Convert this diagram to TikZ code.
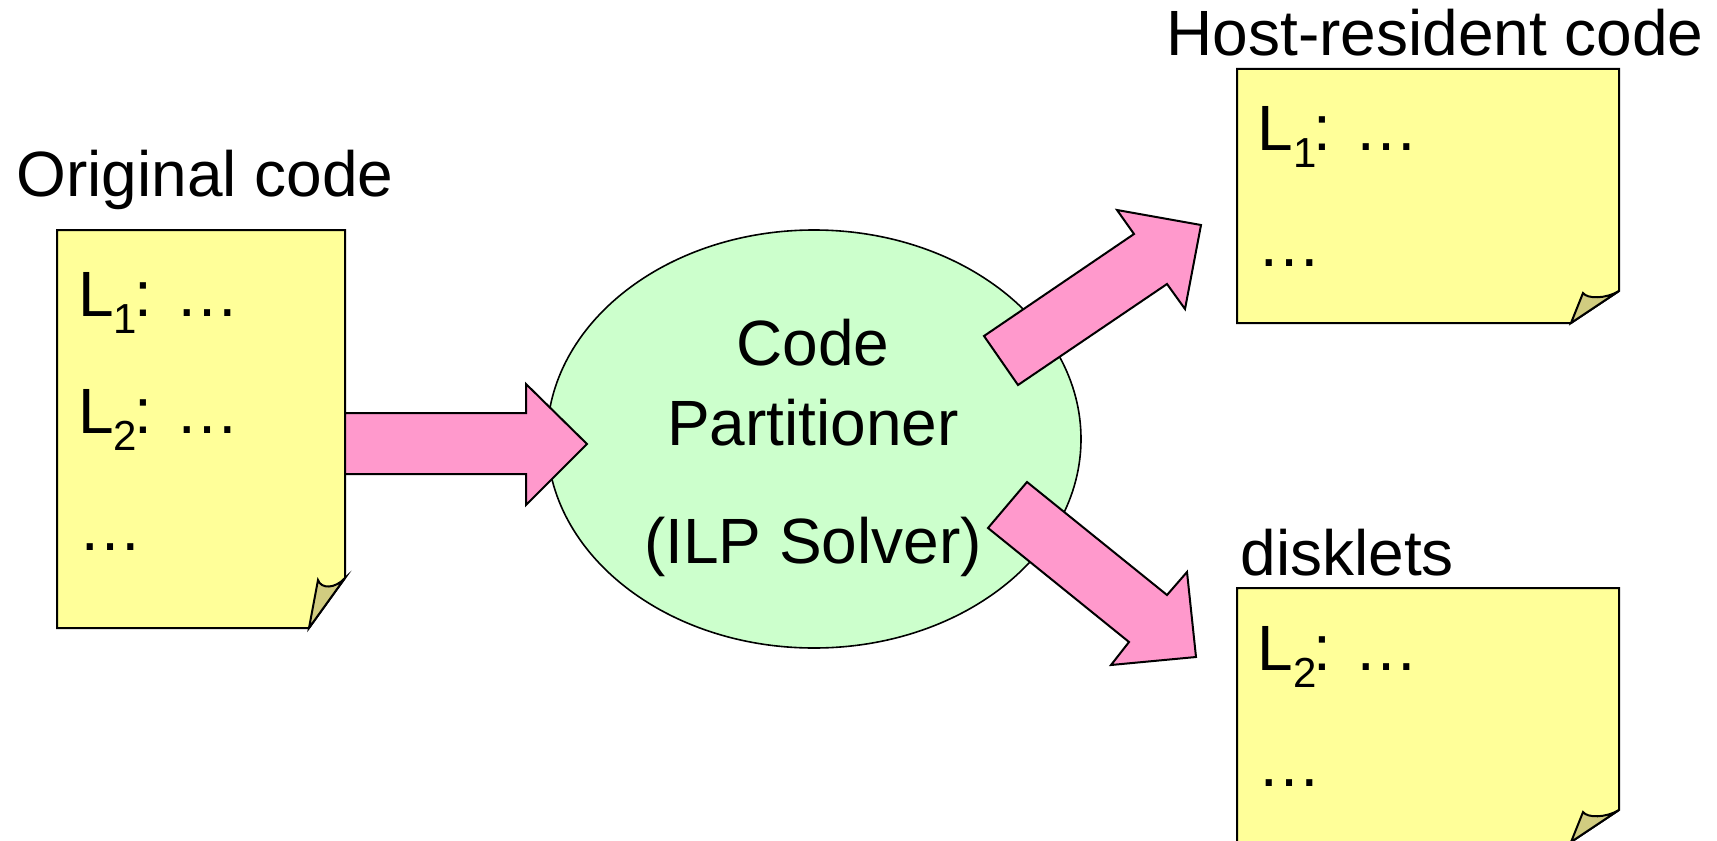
\documentclass[tikz,border=0pt]{standalone}
\usepackage{fontspec}
\setmainfont{Liberation Sans}
\usetikzlibrary{shapes.geometric}
\definecolor{pagefill}{HTML}{FFFF99}
\definecolor{foldfill}{HTML}{D1CC80}
\definecolor{ellfill}{HTML}{CCFFCC}
\definecolor{arrfill}{HTML}{FF99CC}
\newcommand{\Lsub}[1]{L\raisebox{-8.5pt}{\fontsize{21}{21}\selectfont #1}\kern-1.5pt}
\begin{document}
\begin{tikzpicture}[x=0.5pt,y=-0.5pt, line join=miter,
  txt/.style={inner sep=0, font=\fontsize{32}{38}\selectfont},
  page/.style={draw=black, line width=1pt, fill=pagefill},
  flap/.style={draw=black, line width=1pt, fill=foldfill},
  blockarrow/.style={draw=black, line width=1pt, fill=arrfill}]
\clip (0,0) rectangle (1717,840);
\fill[white] (0,0) rectangle (1717,840);

% left page
\draw[page] (57,230) -- (345,230) -- (345,578) -- (309,628) -- (57,628) -- cycle;
\draw[flap] (309,628) -- (318,580) .. controls (321,589) and (335,589) .. (345,578) -- cycle;

% top-right page
\draw[page] (1237,69) -- (1619,69) -- (1619,291) -- (1571,323) -- (1237,323) -- cycle;
\draw[flap] (1571,323) -- (1583,293) .. controls (1587,299) and (1606,299) .. (1619,291) -- cycle;

% bottom-right page
\draw[page] (1237,588) -- (1619,588) -- (1619,810) -- (1571,842) -- (1237,842) -- cycle;
\draw[flap] (1571,842) -- (1583,812) .. controls (1587,818) and (1606,818) .. (1619,810) -- cycle;

% partitioner
\node[draw=black, ellipse, fill=ellfill, line width=0.8pt, minimum width=267pt, minimum height=209pt, inner sep=0] (part) at (814,439) {};

% arrows
\draw[blockarrow] (345,413) -- (526,413) -- (526,384) -- (587,444) -- (526,505) -- (526,474) -- (345,474) -- cycle;
\draw[blockarrow] (984,336) -- (1134,234) -- (1117,210) -- (1201,225) -- (1185,309) -- (1167,284) -- (1018,385) -- cycle;
\draw[blockarrow] (1027,482) -- (1167,595) -- (1187,572) -- (1196,657) -- (1111,665) -- (1129,642) -- (988,528) -- cycle;

% labels
\node[txt, anchor=base west] (tOrig) at (16,196) {Original code};
\node[txt, anchor=base west] (tHost) at (1166,56) {Host-resident code};
\node[txt, anchor=base west] (tDisk) at (1240,575) {disklets};

\node[txt, anchor=base west] (l1) at (78,316) {\Lsub{1}: …};
\node[txt, anchor=base west] (l2) at (78,433) {\Lsub{2}: …};
\node[txt, anchor=base west] (l3) at (78,550) {…};

\node[txt, anchor=base west] (h1) at (1257,150) {\Lsub{1}: …};
\node[txt, anchor=base west] (h2) at (1257,266) {…};

\node[txt, anchor=base west] (d1) at (1257,670) {\Lsub{2}: …};
\node[txt, anchor=base west] (d2) at (1257,786) {…};

\node[txt, anchor=base] (p1) at (813,365) {Code};
\node[txt, anchor=base] (p2) at (813,445) {Partitioner};
\node[txt, anchor=base] (p3) at (813,563) {(ILP Solver)};
\end{tikzpicture}
\end{document}
